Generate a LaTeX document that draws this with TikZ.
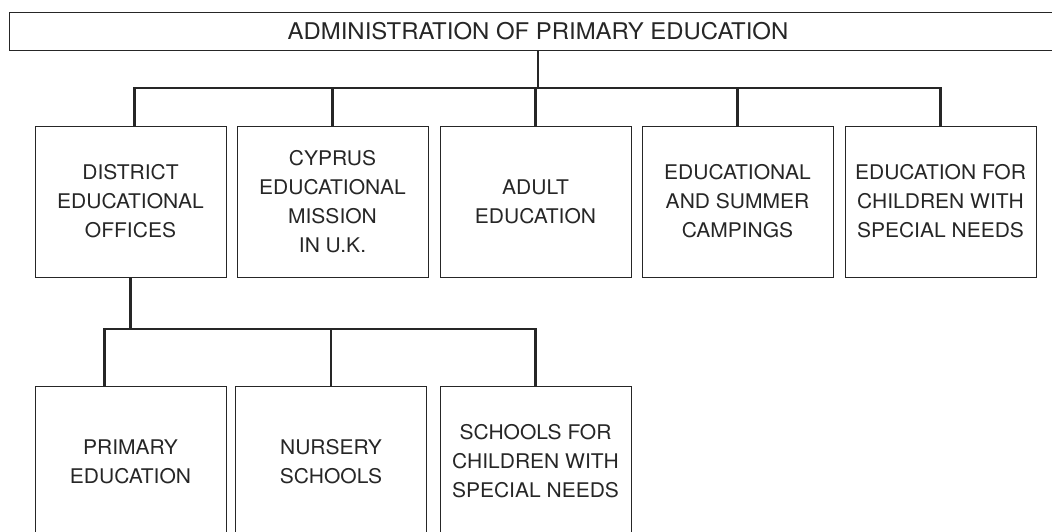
\documentclass[tikz,border=0pt]{standalone}
\usepackage{fontspec}
\setmainfont[FakeStretch=1.04]{TeX Gyre Heros}
\usetikzlibrary{calc}
\definecolor{ink}{gray}{0.15}
\tikzset{
  unit/.style={draw=ink, line width=0.5pt, rectangle, minimum width=95.5pt,
    minimum height=75.5pt, inner sep=0pt, align=center, text=ink,
    font=\fontsize{10.1}{14.5}\selectfont},
  link/.style={draw=ink, line width=1.2pt}
}
\begin{document}
\begin{tikzpicture}[x=0.5pt, y=-0.5pt]
\useasboundingbox (0,0) rectangle (1052,531);
\node[unit, minimum width=529pt, minimum height=19pt, font=\fontsize{11.5}{14}\selectfont] (adm) at (538,31){ADMINISTRATION OF PRIMARY EDUCATION};
\node[unit] (dist) at (130.5,201.5){DISTRICT\\EDUCATIONAL\\OFFICES};
\node[unit] (cyp) at (332.5,201.5){CYPRUS\\EDUCATIONAL\\MISSION\\IN U.K.};
\node[unit] (adult) at (535.5,201.5){ADULT\\EDUCATION};
\node[unit] (camp) at (737.5,201.5){EDUCATIONAL\\AND SUMMER\\CAMPINGS};
\node[unit] (spec) at (940.5,201.5){EDUCATION FOR\\CHILDREN WITH\\SPECIAL NEEDS};
\node[unit] (prim) at (130.5,461.5){PRIMARY\\EDUCATION};
\node[unit] (nurs) at (331,461.5){NURSERY\\SCHOOLS};
\node[unit] (schl) at (535.5,461.5){SCHOOLS FOR\\CHILDREN WITH\\SPECIAL NEEDS};
\coordinate (bus) at (0,88);
\coordinate (sub) at (0,329);
\coordinate (dtop) at ([xshift=2pt]dist.north);
\coordinate (ptop) at ([xshift=-13pt]prim.north);
% upper level
\draw[link] (adm.south) -- (adm.south |- bus);
\draw[link] (dtop) -- (dtop |- bus) -- (spec.north |- bus) -- (spec.north);
\draw[link] (cyp.north) -- (cyp.north |- bus);
\draw[link] (adult.north) -- (adult.north |- bus);
\draw[link] (camp.north) -- (camp.north |- bus);
% lower level
\draw[link] (dist.south) -- (dist.south |- sub);
\draw[link] (ptop) -- (ptop |- sub) -- (schl.north |- sub) -- (schl.north);
\draw[link] (nurs.north) -- (nurs.north |- sub);
\end{tikzpicture}
\end{document}
